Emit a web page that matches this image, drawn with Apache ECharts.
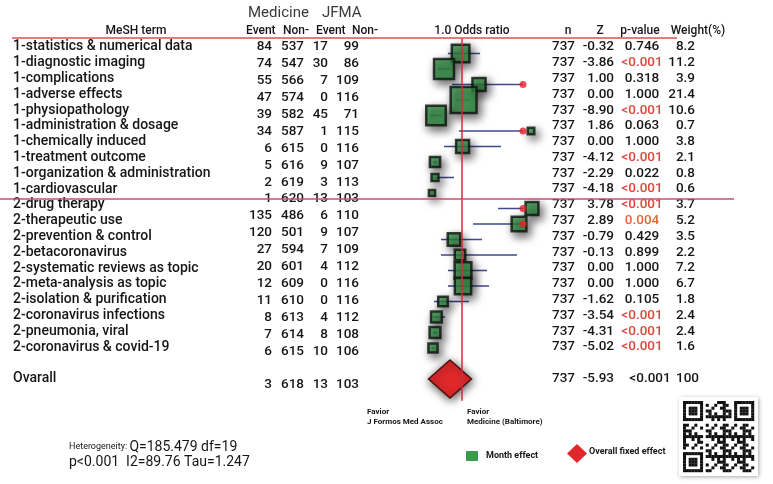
<!DOCTYPE html>
<html lang="en">
<head>
<meta charset="UTF-8">
<title>MeSH term forest plot</title>
<script src="https://cdn.jsdelivr.net/npm/echarts@6/dist/echarts.min.js"></script>
<style>
  html, body { margin: 0; padding: 0; background: #fff; }
  #chart { width: 773px; height: 484px; }
</style>
</head>
<body>
<div id="chart"></div>
<script>
// ---- data ----
var terms = [
  '1-statistics & numerical data', '1-diagnostic imaging', '1-complications',
  '1-adverse effects', '1-physiopathology', '1-administration & dosage',
  '1-chemically induced', '1-treatment outcome', '1-organization & administration',
  '1-cardiovascular', '2-drug therapy', '2-therapeutic use', '2-prevention & control',
  '2-betacoronavirus', '2-systematic reviews as topic', '2-meta-analysis as topic',
  '2-isolation & purification', '2-coronavirus infections', '2-pneumonia, viral',
  '2-coronavirus & covid-19'
];
var overallLabel = 'Ovarall';

// counts column (the picture has 19 count rows for 20 terms)
var medEvent  = [84, 74, 55, 47, 39, 34, 6, 5, 2, 1, 135, 120, 27, 20, 12, 11, 8, 7, 6];
var medNon    = [537, 547, 566, 574, 582, 587, 615, 616, 619, 620, 486, 501, 594, 601, 609, 610, 613, 614, 615];
var jfmaEvent = [17, 30, 7, 0, 45, 1, 0, 9, 3, 13, 6, 9, 7, 4, 0, 0, 4, 8, 10];
var jfmaNon   = [99, 86, 109, 116, 71, 115, 116, 107, 113, 103, 110, 107, 109, 112, 116, 116, 112, 108, 106];
var overallCounts = [3, 618, 13, 103];

var nVal   = [737, 737, 737, 737, 737, 737, 737, 737, 737, 737, 737, 737, 737, 737, 737, 737, 737, 737, 737, 737];
var zVal   = ['-0.32', '-3.86', '1.00', '0.00', '-8.90', '1.86', '0.00', '-4.12', '-2.29', '-4.18',
              '3.78', '2.89', '-0.79', '-0.13', '0.00', '0.00', '-1.62', '-3.54', '-4.31', '-5.02'];
var pVal   = ['0.746', '<0.001', '0.318', '1.000', '<0.001', '0.063', '1.000', '<0.001', '0.022', '<0.001',
              '<0.001', '0.004', '0.429', '0.899', '1.000', '1.000', '0.105', '<0.001', '<0.001', '<0.001'];
var weight = [8.2, 11.2, 3.9, 21.4, 10.6, 0.7, 3.8, 2.1, 0.8, 0.6, 3.7, 5.2, 3.5, 2.2, 7.2, 6.7, 1.8, 2.4, 2.4, 1.6];
var overallStats = { n: 737, z: '-5.93', p: '<0.001', w: 100 };

// log odds ratio (plot units)
var est  = [-0.07, -0.9, 0.85, 0.08, -1.3, 3.45, 0.03, -1.35, -1.35, -1.5,
            3.5, 2.85, -0.4, -0.1, 0.05, 0.05, -0.95, -1.28, -1.35, -1.45];
var ciLo = [-0.7, -1.2, -0.5, -0.3, -1.6, -0.15, -0.9, -1.45, -1.45, -1.55,
            1.8, 0.55, -1.05, -1.05, -0.7, -0.7, -1.4, -1.45, -1.45, -1.5];
var ciHi = [0.9, -0.6, 3.05, 0.4, -1.0, 3.05, 1.95, -1.25, -0.4, -1.45,
            3.05, 3.05, 1.0, 2.75, 1.25, 1.35, 0.35, -0.85, -1.25, -1.4];
var capped = [2, 5, 10, 11];          // rows whose CI ends in a red dot
var overallEst = -0.6, overallLo = -1.675, overallHi = 0.475;

var hetQ = '185.479', hetDf = '19', hetP = 'p<0.001', hetI2 = '89.76', hetTau = '1.247';

// ---- helpers ----
var INK = '#161616';
var F_LABEL = '500 14px Roboto';
var F_NUM = '500 13.5px Roboto';

function rows(n) { var a = []; for (var i = 0; i < n; i++) a.push(i); return a; }

function textCol(grid, x, rowIdx, texts, align, font, colors) {
  return {
    type: 'custom', xAxisIndex: grid, yAxisIndex: grid, silent: true, z: 5,
    data: rowIdx.map(function (r, i) { return [x, r, i]; }),
    renderItem: function (params, api) {
      var p = api.coord([api.value(0), api.value(1)]);
      var i = api.value(2);
      return {
        type: 'text', x: p[0], y: p[1],
        style: {
          text: String(texts[i]), font: font, align: align, verticalAlign: 'middle',
          fill: colors ? colors[i] : INK
        }
      };
    }
  };
}

function pColor(s) {
  if (s.charAt(0) === '<') return '#e0463f';
  return parseFloat(s) < 0.01 ? '#e2683c' : INK;
}

var chart = echarts.init(document.getElementById('chart'));

var r20 = rows(20), r19 = rows(19);

var series = [
  // left label column and statistics columns (grid 0)
  textCol(0, 13, r20.concat([21]), terms.concat([overallLabel]), 'left', F_LABEL),
  textCol(0, 575, r20.concat([21]), nVal.concat([overallStats.n]), 'right', F_NUM),
  textCol(0, 614, r20.concat([21]), zVal.concat([overallStats.z]), 'right', F_NUM),
  textCol(0, 642, r20, pVal, 'center', F_NUM, pVal.map(pColor)),
  textCol(0, 650, [21], [overallStats.p], 'center', F_NUM),
  textCol(0, 695, r20, weight.map(function (w) { return w.toFixed(1); }), 'right', F_NUM),
  textCol(0, 699, [21], [overallStats.w], 'right', F_NUM),
  // count columns (grid 1)
  textCol(1, 272, r19.concat([20]), medEvent.concat([overallCounts[0]]), 'right', F_NUM),
  textCol(1, 304, r19.concat([20]), medNon.concat([overallCounts[1]]), 'right', F_NUM),
  textCol(1, 328, r19.concat([20]), jfmaEvent.concat([overallCounts[2]]), 'right', F_NUM),
  textCol(1, 359, r19.concat([20]), jfmaNon.concat([overallCounts[3]]), 'right', F_NUM),
  // confidence intervals
  {
    type: 'custom', xAxisIndex: 2, yAxisIndex: 2, silent: true, z: 2,
    data: r20.map(function (i) { return [ciLo[i], ciHi[i], i]; }),
    renderItem: function (params, api) {
      var a = api.coord([api.value(0), api.value(2)]);
      var b = api.coord([api.value(1), api.value(2)]);
      return { type: 'line', shape: { x1: a[0], y1: a[1], x2: b[0], y2: b[1] },
        style: { stroke: '#3d4a8e', lineWidth: 1.5 } };
    }
  },
  // squares
  {
    type: 'scatter', xAxisIndex: 2, yAxisIndex: 2, silent: true, z: 3,
    symbol: 'rect',
    data: r20.map(function (i) { return [est[i], i, weight[i]]; }),
    symbolSize: function (v) { return 7.6 * Math.pow(v[2], 0.4); },
    itemStyle: {
      color: '#36994a', borderColor: '#0d120d', borderWidth: 2.5,
      shadowBlur: 10, shadowColor: 'rgba(0,0,0,0.75)', shadowOffsetX: 3, shadowOffsetY: 4
    }
  },
  // red end dots
  {
    type: 'scatter', xAxisIndex: 2, yAxisIndex: 2, silent: true, z: 4,
    data: capped.map(function (i) { return [ciHi[i], i]; }),
    symbolSize: 7,
    itemStyle: { color: '#e5212b' }
  },
  // overall diamond
  {
    type: 'custom', xAxisIndex: 2, yAxisIndex: 2, silent: true, z: 4,
    data: [[overallLo, overallEst, overallHi, 21]],
    renderItem: function (params, api) {
      var l = api.coord([api.value(0), api.value(3)]);
      var c = api.coord([api.value(1), api.value(3)]);
      var r = api.coord([api.value(2), api.value(3)]);
      var h = 19;
      return { type: 'polygon',
        shape: { points: [[l[0], l[1]], [c[0], c[1] - h], [r[0], r[1]], [c[0], c[1] + h]] },
        style: { fill: '#e3292a', stroke: '#4a1010', lineWidth: 1.5,
          shadowBlur: 10, shadowColor: 'rgba(0,0,0,0.7)', shadowOffsetX: 1, shadowOffsetY: 2 } };
    }
  },
  // reference line at OR = 1.0
  {
    type: 'custom', xAxisIndex: 2, yAxisIndex: 2, silent: true, z: 6,
    data: [[0, -1, 22.4]],
    renderItem: function (params, api) {
      var a = api.coord([api.value(0), api.value(1)]);
      var b = api.coord([api.value(0), api.value(2)]);
      return { type: 'line', shape: { x1: a[0], y1: a[1], x2: b[0], y2: b[1] },
        style: { stroke: '#c8313a', lineWidth: 1.5 } };
    }
  }
];

// ---- decoration: header, rules, notes, legend, QR ----
function txt(x, y, s, font, align, fill) {
  return { type: 'text', x: x, y: y, silent: true, z: 10,
    style: { text: s, font: font, align: align || 'left', verticalAlign: 'middle', fill: fill || INK } };
}

var F_HEAD = '500 12px Roboto';
var graphics = [
  txt(248, 13, 'Medicine', '15px Roboto', 'left', '#3a3a3a'),
  txt(322, 13, 'JFMA', '15px Roboto', 'left', '#3a3a3a'),
  txt(136, 31, 'MeSH term', F_HEAD, 'center'),
  txt(246, 31, 'Event', F_HEAD), txt(283, 31, 'Non-', F_HEAD),
  txt(316, 31, 'Event', F_HEAD), txt(352, 31, 'Non-', F_HEAD),
  txt(472, 31, '1.0 Odds ratio', F_HEAD, 'center'),
  txt(568, 31, 'n', F_HEAD, 'center'),
  txt(600, 31, 'Z', F_HEAD, 'center'),
  txt(640, 31, 'p-value', F_HEAD, 'center'),
  txt(698, 31, 'Weight(%)', F_HEAD, 'center'),
  { type: 'line', silent: true, z: 9, shape: { x1: 12, y1: 38, x2: 677, y2: 38 },
    style: { stroke: '#d5534c', lineWidth: 1.5 } },
  { type: 'line', silent: true, z: 9, shape: { x1: 0, y1: 199, x2: 734, y2: 199 },
    style: { stroke: '#cf4a7c', lineWidth: 1.5 } },
  txt(367, 412, 'Favior', 'bold 8px Roboto'),
  txt(367, 422, 'J Formos Med Assoc', 'bold 8px Roboto'),
  txt(467, 412, 'Favior', 'bold 8px Roboto'),
  txt(467, 422, 'Medicine (Baltimore)', 'bold 8px Roboto'),
  { type: 'rect', silent: true, shape: { x: 466, y: 451, width: 12, height: 10 },
    style: { fill: '#3b9b4c' } },
  txt(486, 456, 'Month effect', 'bold 9px Roboto'),
  { type: 'polygon', silent: true,
    shape: { points: [[577, 444], [587, 453.5], [577, 463], [567, 453.5]] },
    style: { fill: '#e0282a' } },
  txt(589, 452, 'Overall fixed effect', 'bold 9px Roboto'),
  { type: 'text', x: 69, y: 447, silent: true,
    style: { text: '{s|Heterogeneity: }{b|Q=' + hetQ + ' df=' + hetDf + '}',
      verticalAlign: 'middle', fill: INK,
      rich: { s: { font: '9px Roboto', fill: INK }, b: { font: '14px Roboto', fill: INK } } } },
  txt(69, 462, hetP + '  I2=' + hetI2 + ' Tau=' + hetTau, '14px Roboto'),
  { type: 'rect', silent: true, shape: { x: 679, y: 397, width: 79, height: 79 },
    style: { fill: '#fff', shadowBlur: 4, shadowColor: 'rgba(0,0,0,0.35)', shadowOffsetX: 1, shadowOffsetY: 1 } }
];

// QR-style decoration
(function () {
  var N = 25, m = 2.84, ox = 683, oy = 401;
  function finder(r, c, r0, c0) {
    var d = Math.max(Math.abs(r - r0 - 3), Math.abs(c - c0 - 3));
    return d === 3 || d <= 1;
  }
  for (var r = 0; r < N; r++) {
    for (var c = 0; c < N; c++) {
      var on;
      if (r < 7 && c < 7) on = finder(r, c, 0, 0);
      else if (r < 7 && c > 17) on = finder(r, c, 0, 18);
      else if (r > 17 && c < 7) on = finder(r, c, 18, 0);
      else if (r === 7 || c === 7 || (r < 8 && c === 17) || (r === 17 && c < 8)) on = false;
      else on = ((r * 7 + c * 13 + r * c * 3) % 7) < 3;
      if (on) graphics.push({ type: 'rect', silent: true, z: 11,
        shape: { x: ox + c * m, y: oy + r * m, width: m + 0.2, height: m + 0.2 },
        style: { fill: '#111' } });
    }
  }
})();

var hidden = { show: false };
chart.setOption({
  animation: false,
  grid: [
    { left: 0, top: 39.1, width: 773, height: 347.4 },
    { left: 0, top: 38.55, width: 773, height: 354.9 },
    { left: 412, top: 38, width: 140, height: 364.25 }
  ],
  xAxis: [
    { type: 'value', gridIndex: 0, min: 0, max: 773, axisLine: hidden, axisTick: hidden, axisLabel: hidden, splitLine: hidden },
    { type: 'value', gridIndex: 1, min: 0, max: 773, axisLine: hidden, axisTick: hidden, axisLabel: hidden, splitLine: hidden },
    { type: 'value', gridIndex: 2, min: -2.5, max: 4.5, axisLine: hidden, axisTick: hidden, axisLabel: hidden, splitLine: hidden }
  ],
  yAxis: [
    { type: 'value', gridIndex: 0, inverse: true, min: -0.5, max: 21.5, axisLine: hidden, axisTick: hidden, axisLabel: hidden, splitLine: hidden },
    { type: 'value', gridIndex: 1, inverse: true, min: -0.5, max: 20.5, axisLine: hidden, axisTick: hidden, axisLabel: hidden, splitLine: hidden },
    { type: 'value', gridIndex: 2, inverse: true, min: -1, max: 22.5, axisLine: hidden, axisTick: hidden, axisLabel: hidden, splitLine: hidden }
  ],
  series: series,
  graphic: graphics
});
</script>
</body>
</html>
